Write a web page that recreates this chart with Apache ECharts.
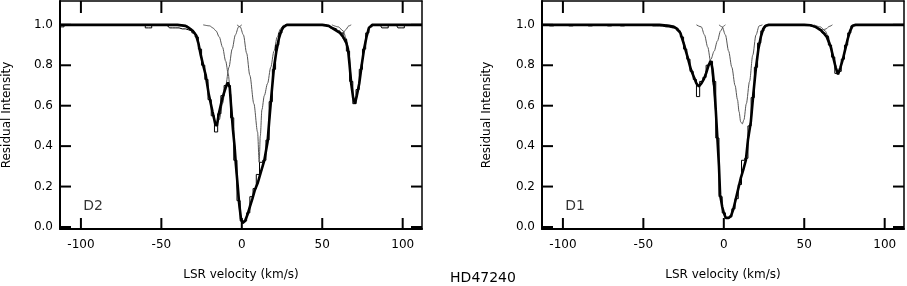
<!DOCTYPE html>
<html><head><meta charset="utf-8">
<script src="https://cdn.jsdelivr.net/npm/echarts@6/dist/echarts.min.js"></script>
<style>html,body{margin:0;padding:0;background:#fff;overflow:hidden}#c{width:907px;height:286px}</style>
</head><body><div id="c"></div>
<script>
// ---- tick labels ----
const xTicks = [-100, -50, 0, 50, 100];
const yTicks = [0, 0.2, 0.4, 0.6, 0.8, 1.0];
const panelLabels = ['D2', 'D1'];
const starName = 'HD47240';

// ---- D2 panel (left) ----
const d2FitV = [-113,-40,-35,-33,-30.5,-28.5,-27,-25.5,-24,-22.4,-20.5,-18.2,-16.5,-15.5,-14.3,-12,-10,-8.7,-7.5,-6.5,-5.5,-4.5,-3.7,-2.5,-1.7,-0.5,0.5,2,3.5,5,6.6,8,10,11.8,14,16,17,18.5,20,21.5,23,24.5,26,28,50,54,58,61,63,65,66,67,68,69.2,70.3,71.5,73,74.5,76,77.5,79,81,112];
const d2FitI = [1,1,0.995,0.985,0.97,0.95,0.91,0.85,0.80,0.75,0.655,0.57,0.51,0.50,0.56,0.64,0.69,0.715,0.69,0.58,0.48,0.40,0.31,0.20,0.12,0.04,0.02,0.03,0.06,0.10,0.14,0.18,0.22,0.27,0.33,0.42,0.52,0.66,0.79,0.87,0.93,0.97,0.99,1,1,0.995,0.975,0.96,0.94,0.91,0.88,0.80,0.71,0.64,0.61,0.65,0.71,0.80,0.88,0.94,0.985,1,1];
const d2DataV = [-113,-108,-100,-90,-80,-70,-62,-58,-54,-50,-46,-44,-42,-40,-38,-36,-34,-32,-30,-28,-26,-24,-22,-20,-18,-16,-14,-12,-10,-8,-6,-4,-2,0,2,4,6,8,10,12,14,16,18,20,22,24,26,28,30,36,42,48,52,54,56,58,60,62,64,66,68,70,72,74,76,78,80,82,86,88,90,92,96,98,100,102,106,112];
const d2DataI = [0.99,1,1,1,1,1,1,0.985,1,1,0.995,0.985,0.985,0.985,0.98,0.98,0.975,0.97,0.96,0.94,0.88,0.80,0.73,0.63,0.55,0.47,0.56,0.65,0.70,0.70,0.54,0.33,0.13,0.03,0.03,0.07,0.15,0.19,0.26,0.32,0.33,0.43,0.62,0.78,0.90,0.96,0.99,1,1,1,1,1,1,0.995,0.985,0.98,0.97,0.96,0.93,0.87,0.72,0.61,0.68,0.78,0.88,0.96,0.99,1,1,0.985,0.985,1,1,0.985,0.985,1,1,1];
const d2CompAV = [-38,-34,-31,-28,-26,-24,-22,-20,-18,-16,-14,-12,-10,-8,-6,-4,-2,0];
const d2CompAI = [1,0.995,0.98,0.95,0.88,0.80,0.73,0.64,0.56,0.505,0.53,0.61,0.70,0.79,0.88,0.95,0.99,1];
const d2CompBV = [-3,-1,1,3,5,7.5,9.8,10.8,11.5,12.5,14,16,18,20,22,24,26];
const d2CompBI = [1,0.99,0.95,0.86,0.75,0.61,0.47,0.32,0.45,0.58,0.65,0.71,0.79,0.87,0.94,0.98,1];
const d2CompCV = [-24,-20,-18,-16,-14,-12,-10,-8.5,-7,-5.5,-4,-2.5,-1,0.5,2,3.5,5,6.6,8,10,11.8,14,16,17,18.5,20,21.5,23,24.5,26,28];
const d2CompCI = [1,0.995,0.985,0.97,0.94,0.89,0.82,0.76,0.66,0.50,0.33,0.17,0.06,0.025,0.03,0.06,0.10,0.14,0.18,0.22,0.27,0.33,0.42,0.52,0.66,0.79,0.87,0.93,0.97,0.99,1];
const d2CompDV = [56,60,63,65,66.5,68,69.2,70.3,71.5,73,74.5,76,77.5,79,81];
const d2CompDI = [1,0.99,0.97,0.93,0.87,0.74,0.64,0.61,0.65,0.72,0.81,0.89,0.95,0.985,1];
const d2CompEV = [50,54,57,60,62.5,64.5,66.5,68];
const d2CompEI = [1,0.995,0.98,0.965,0.955,0.975,0.995,1];

// ---- D1 panel (right) ----
const d1FitV = [-113,-40,-34,-31,-29,-27,-25,-22.5,-20.5,-18.5,-17,-15.5,-14,-12.5,-11,-9.5,-8,-7,-6,-5,-4,-3,-2.3,-1,0,1.2,3,4.5,6,7.5,9,10.5,12,13.7,15,16.8,18.5,20,21.5,23,24.5,26,28,50,54,57,60,62,64,66.5,68,69.5,71,72.5,74,75.5,77,78.5,80,82,112];
const d1FitI = [1,1,0.995,0.99,0.98,0.96,0.91,0.84,0.78,0.74,0.71,0.695,0.71,0.73,0.76,0.80,0.82,0.78,0.70,0.58,0.44,0.30,0.16,0.10,0.07,0.045,0.045,0.055,0.09,0.14,0.19,0.24,0.28,0.33,0.43,0.52,0.67,0.79,0.88,0.94,0.98,0.995,1,1,0.998,0.99,0.975,0.96,0.94,0.89,0.84,0.79,0.755,0.79,0.83,0.88,0.93,0.97,0.995,1,1];
const d1DataV = [-113,-108,-104,-100,-96,-92,-88,-84,-80,-76,-72,-68,-64,-60,-54,-48,-44,-40,-36,-34,-32,-30,-28,-26,-24,-22,-20,-18,-16,-14,-12,-10,-8,-6,-4,-2,0,2,4,6,8,10,12,14,16,18,20,22,24,26,28,34,40,46,50,54,56,58,60,62,64,66,68,70,72,74,76,78,80,82,88,94,100,106,112];
const d1DataI = [1,0.995,1,1,0.995,1,1,0.995,1,1,0.995,1,0.995,1,1,1,0.995,0.995,0.99,0.99,0.985,0.985,0.97,0.94,0.88,0.83,0.77,0.73,0.645,0.72,0.74,0.80,0.82,0.72,0.44,0.15,0.07,0.045,0.05,0.09,0.14,0.21,0.33,0.34,0.50,0.64,0.79,0.91,0.97,0.995,1,1,1,1,1,0.995,0.99,0.985,0.975,0.96,0.945,0.90,0.84,0.76,0.77,0.83,0.90,0.96,0.995,1,1,1,0.998,1,1];
const d1CompAV = [-36,-32,-29,-27,-25,-22.5,-20.5,-18.5,-17,-15.5,-14,-12.5,-11,-9.5,-8,-6,-4,-2,0,1];
const d1CompAI = [1,0.995,0.985,0.96,0.915,0.845,0.785,0.745,0.715,0.70,0.71,0.735,0.77,0.80,0.83,0.87,0.92,0.97,0.995,1];
const d1CompBV = [-3,-1,1,3,5,7,8.5,9.5,10.5,11.5,12.5,14,16,18,20,22,24];
const d1CompBI = [1,0.99,0.95,0.87,0.79,0.70,0.63,0.57,0.52,0.51,0.53,0.61,0.72,0.85,0.95,0.995,1];
const d1CompCV = [-17,-14,-12,-10,-8,-6.5,-5,-4,-3,-2.3,-1,0,1.2,3,4.5,6,7.5,9,10.5,12,13.7,15,16.8,18.5,20,21.5,23,24.5,26,28];
const d1CompCI = [1,0.99,0.95,0.89,0.81,0.70,0.57,0.45,0.31,0.17,0.10,0.065,0.045,0.045,0.055,0.09,0.14,0.19,0.24,0.28,0.33,0.43,0.52,0.67,0.79,0.88,0.94,0.98,0.995,1];
const d1CompDV = [56,60,63,65,66.5,68,69.5,71,72.5,74,75.5,77,78.5,80,82];
const d1CompDI = [1,0.99,0.97,0.94,0.90,0.85,0.80,0.755,0.79,0.83,0.88,0.93,0.97,0.995,1];
const d1CompEV = [52,56,59,61.5,63.5,65.5,67.5];
const d1CompEI = [1,0.992,0.982,0.975,0.98,0.992,1];

const zip = (v, i) => v.map((x, k) => [x, i[k]]);
const FONT = 'DejaVu Sans';
const X_MIN = -113, X_MAX = 112, Y_MIN = -0.01, Y_MAX = 1.118;
const GW = 362, GH = 229, GTOP = 1;
const TICK_LEN = 11;

const panels = [
  { fit: zip(d2FitV, d2FitI), data: zip(d2DataV, d2DataI),
    comps: [zip(d2CompAV, d2CompAI), zip(d2CompBV, d2CompBI), zip(d2CompCV, d2CompCI), zip(d2CompDV, d2CompDI), zip(d2CompEV, d2CompEI)],
    left: 60, nameGap: 47 },
  { fit: zip(d1FitV, d1FitI), data: zip(d1DataV, d1DataI),
    comps: [zip(d1CompAV, d1CompAI), zip(d1CompBV, d1CompBI), zip(d1CompCV, d1CompCI), zip(d1CompDV, d1CompDI), zip(d1CompEV, d1CompEI)],
    left: 542, nameGap: 49 }
];

const grids = [], xAxes = [], yAxes = [], series = [];
const blackLine = w => ({ show: true, onZero: false, lineStyle: { color: '#000', width: w } });
const txt = { color: '#000', fontFamily: FONT, fontSize: 12 };
const fitSeriesIndex = [];

panels.forEach((p, g) => {
  const gi = grids.length;
  grids.push({ left: p.left, top: GTOP, width: GW, height: GH });
  const xi = xAxes.length;
  xAxes.push({ type: 'value', gridIndex: gi, min: X_MIN, max: X_MAX, position: 'bottom',
    axisLine: blackLine(2), axisTick: { show: false }, axisLabel: { show: false }, splitLine: { show: false },
    name: 'LSR velocity (km/s)', nameLocation: 'middle', nameGap: 40, nameTextStyle: txt });
  xAxes.push({ type: 'value', gridIndex: gi, min: X_MIN, max: X_MAX, position: 'top',
    axisLine: blackLine(1.5), axisTick: { show: false }, axisLabel: { show: false }, splitLine: { show: false } });
  const yi = yAxes.length;
  yAxes.push({ type: 'value', gridIndex: gi, min: Y_MIN, max: Y_MAX, position: 'left',
    axisLine: blackLine(2), axisTick: { show: false }, axisLabel: { show: false }, splitLine: { show: false },
    name: 'Residual Intensity', nameLocation: 'middle', nameGap: p.nameGap, nameRotate: 90, nameTextStyle: txt });
  yAxes.push({ type: 'value', gridIndex: gi, min: Y_MIN, max: Y_MAX, position: 'right',
    axisLine: blackLine(1.5), axisTick: { show: false }, axisLabel: { show: false }, splitLine: { show: false } });

  p.comps.forEach(c => series.push({
    type: 'line', xAxisIndex: xi, yAxisIndex: yi, data: c, showSymbol: false, symbol: 'none',
    smooth: 0.3, smoothMonotone: 'x', lineStyle: { color: '#555', width: 1 }, silent: true, z: 2
  }));
  series.push({
    type: 'line', xAxisIndex: xi, yAxisIndex: yi, data: p.data, showSymbol: false, symbol: 'none',
    step: 'middle', lineStyle: { color: '#000', width: 1 }, silent: true, z: 3
  });
  fitSeriesIndex.push(series.length);
  series.push({
    type: 'line', xAxisIndex: xi, yAxisIndex: yi, data: p.fit, showSymbol: false, symbol: 'none',
    lineStyle: { color: '#000', width: 2.6 }, silent: true, z: 4
  });
  series.push({
    type: 'scatter', xAxisIndex: xi, yAxisIndex: yi, data: [[-98.5, 0.1]], symbolSize: 0, silent: true,
    label: { show: true, position: 'right', distance: 0, formatter: panelLabels[g], color: '#000', fontFamily: FONT, fontSize: 14 }
  });
});

const titleText = { type: 'text', x: 483, y: 278, style: { text: starName, textAlign: 'center', textVerticalAlign: 'middle', font: '14px "DejaVu Sans"', fill: '#000' } };
const chart = echarts.init(document.getElementById('c'), null, { renderer: 'canvas' });
chart.setOption({
  animation: false,
  backgroundColor: '#fff',
  grid: grids, xAxis: xAxes, yAxis: yAxes, series: series
});

// ticks (filled rects) and tick labels placed through each panel's axis scales
const els = [titleText];
fitSeriesIndex.forEach(si => {
  const px = (x, y) => chart.convertToPixel({ seriesIndex: si }, [x, y]);
  const rect = (x, y, w, h) => els.push({ type: 'rect', silent: true, z: 50,
    shape: { x, y, width: w, height: h }, style: { fill: '#000' } });
  const label = (x, y, text, align, vAlign) => els.push({ type: 'text', silent: true, z: 50, x, y,
    style: { text, textAlign: align, textVerticalAlign: vAlign, font: '12px "DejaVu Sans"', fill: '#000' } });
  xTicks.forEach(v => {
    const b = px(v, Y_MIN), t = px(v, Y_MAX);
    rect(b[0] - 1, b[1] - TICK_LEN, 2, TICK_LEN);
    rect(t[0] - 1, t[1], 2, TICK_LEN + 1);
    label(b[0], b[1] + 10, String(v), 'center', 'top');
  });
  yTicks.forEach(v => {
    const l = px(X_MIN, v), r = px(X_MAX, v);
    rect(l[0], l[1] - 1, TICK_LEN, 2);
    rect(r[0] - TICK_LEN, r[1] - 1, TICK_LEN, 2);
    label(l[0] - 7, l[1], v.toFixed(1), 'right', 'middle');
  });
});
chart.setOption({ graphic: { elements: els } });
</script></body></html>
